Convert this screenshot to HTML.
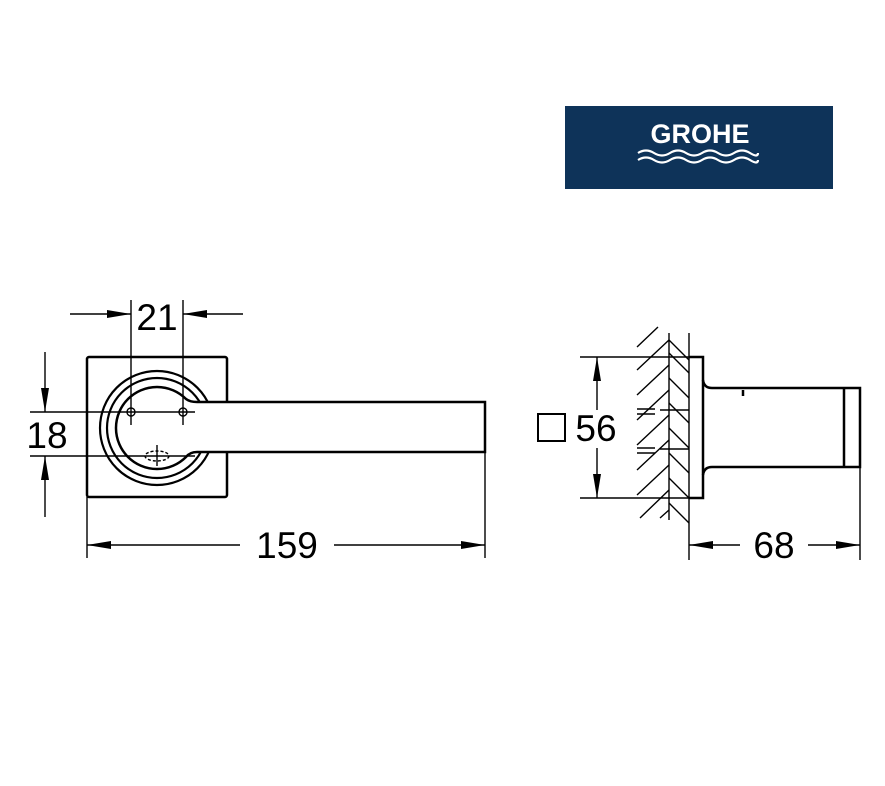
<!DOCTYPE html>
<html><head><style>body{margin:0;background:#fff}svg{display:block}</style></head><body>
<svg width="885" height="786" viewBox="0 0 885 786" xmlns="http://www.w3.org/2000/svg" font-family="Liberation Sans, sans-serif">
<defs>
<marker id="b" viewBox="0 0 24 10" refX="24" refY="5" markerWidth="24" markerHeight="10" markerUnits="userSpaceOnUse" orient="auto"><path d="M0,1L24,5L0,9z" fill="#000"/></marker></defs>
<rect x="565" y="106" width="268" height="83" fill="#0e3359"/>
<text x="700" y="143" font-size="27" font-weight="bold" fill="#fff" text-anchor="middle">GROHE</text>
<g fill="none" stroke="#fff" stroke-width="2.2"><path d="M638,153q8,-5 16,0t16,0t16,0t16,0t16,0t16,0t16,0t8,0"/><path d="M638,160q8,-5 16,0t16,0t16,0t16,0t16,0t16,0t16,0t8,0"/></g>
<g stroke="#000" fill="none" stroke-width="2.5">
<rect x="87" y="357" width="140" height="140" rx="2"/>
</g>
<g stroke="#000" fill="none" stroke-width="2.2">
<circle cx="157" cy="428" r="57"/>
<circle cx="157" cy="428" r="50"/>
<path d="M485,402H197Q190,402 186,399A41,41 0 1 0 186,457Q190,452 197,452H485Z" fill="#fff" stroke-width="2.5"/>
</g>
<g stroke="#000" fill="none" stroke-width="1.4">
<circle cx="131" cy="412" r="4"/><circle cx="183" cy="412" r="4"/>
<ellipse cx="157" cy="456" rx="12" ry="5" stroke-dasharray="3,2"/>
<path d="M157,445V466"/>
<path d="M131,300V425M183,300V425"/>
<path d="M70,314H131" marker-end="url(#b)"/>
<path d="M243,314H183" marker-end="url(#b)"/>
<path d="M30,412H195M30,456H195"/>
<path d="M45,352V412" marker-end="url(#b)"/>
<path d="M45,517V456" marker-end="url(#b)"/>
<path d="M87,497V558M485,452V558"/>
<path d="M240,545H87" marker-end="url(#b)"/>
<path d="M334,545H485" marker-end="url(#b)"/>
<path d="M689,333V560M860,388V560"/>
<path d="M580,357H689M580,498H689"/>
<path d="M597,410V357" marker-end="url(#b)"/>
<path d="M597,448V498" marker-end="url(#b)"/>
<path d="M740,545H689" marker-end="url(#b)"/>
<path d="M808,545H860" marker-end="url(#b)"/>
<path d="M669,333V520"/>
<path d="M637,347l21,-20M637,370l32,-30M637,395l32,-30M637,420l32,-30M637,445l32,-30M637,470l32,-30M637,495l32,-30M640,518l29,-28M660,518l9,-8"/>
<path d="M669,353l20,20M669,378l20,20M669,403l20,20M669,428l20,20M669,453l20,20M669,478l20,20M669,503l20,20M669,340l20,20"/>
<path d="M637,409h18M637,414h18M637,448h18M637,453h18M660,410h29M660,449h29"/>
</g>
<g stroke="#000" fill="none" stroke-width="2.5">
<path d="M689,357H703V498H689"/>
<path d="M703,380Q704,388 712,388H860V467H712Q704,467 703,475"/>
<path d="M844,388V467"/>
<path d="M743,390V396"/>
<rect x="538" y="414" width="27" height="27" stroke-width="2"/>
</g>
<g font-size="37" fill="#000" text-anchor="middle">
<text x="157" y="330">21</text>
<text x="47" y="448">18</text>
<text x="287" y="558">159</text>
<text x="596" y="441">56</text>
<text x="774" y="558">68</text>
</g>
</svg>
</body></html>
